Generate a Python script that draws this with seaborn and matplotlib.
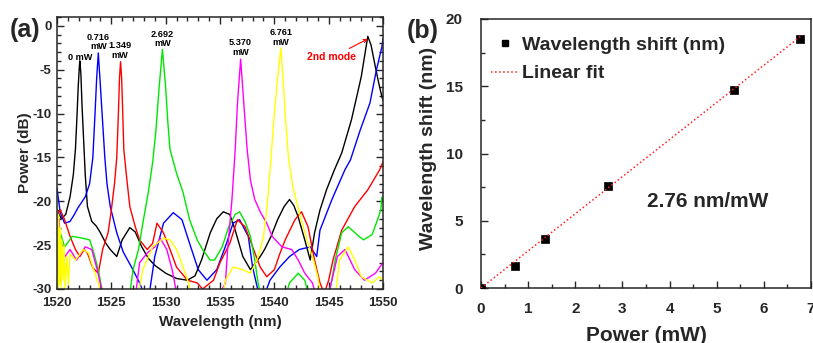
import numpy as np
import pandas as pd
import matplotlib
matplotlib.use("Agg")
import matplotlib.pyplot as plt
from matplotlib.lines import Line2D
from matplotlib.ticker import MultipleLocator
import seaborn as sns

# ---------------- data: panel (a) spectra ----------------
series_names = ["0 mW", "0.716 mW", "1.349 mW", "2.692 mW", "5.370 mW", "6.761 mW"]
series_colors = ["#000000", "#0000ff", "#ff0000", "#00e600", "#ff00ff", "#ffff00"]

wl_0 = [1520.0, 1520.4, 1520.8, 1521.2, 1521.5, 1521.7, 1521.85, 1521.95, 1522.05, 1522.1,
        1522.2, 1522.3, 1522.45, 1522.6, 1522.8, 1523.2, 1523.6, 1524.0, 1524.5, 1524.9,
        1525.5, 1526.0, 1526.7, 1527.2, 1527.8, 1528.4, 1529.0, 1530.0, 1531.0, 1532.0,
        1532.7, 1533.3, 1534.1, 1534.7, 1535.3, 1535.9, 1536.4, 1537.1, 1537.8, 1538.7,
        1539.1, 1539.7, 1540.3, 1540.9, 1541.4, 1541.8, 1542.2, 1542.8, 1543.3, 1543.7,
        1544.2, 1544.8, 1545.5, 1546.2, 1547.1, 1548.0, 1548.3, 1548.6, 1548.9, 1549.3,
        1549.6, 1549.9, 1550.0]
db_0 = [-21.0, -22.0, -21.5, -19.5, -17.0, -14.0, -10.0, -7.0, -4.8, -4.0,
        -5.5, -9.0, -13.0, -17.0, -20.6, -22.3, -22.8, -23.6, -24.8, -25.5,
        -26.3, -24.4, -23.0, -23.5, -25.2, -26.5, -27.3, -28.2, -28.8, -29.0,
        -28.5, -26.7, -23.6, -22.0, -21.2, -21.5, -23.3, -26.3, -27.8, -26.3,
        -25.5, -24.0, -22.1, -20.6, -19.8, -20.5, -21.8, -24.4, -26.7, -23.6,
        -21.0, -18.7, -16.5, -14.5, -10.7, -5.8, -3.5, -1.2, -2.2, -4.7,
        -6.5, -8.1, -8.5]

wl_1 = [1520.0, 1520.3, 1520.7, 1521.2, 1521.6, 1521.9, 1522.6, 1523.0, 1523.3, 1523.5,
        1523.65, 1523.8, 1523.95, 1524.15, 1524.4, 1524.6, 1524.9, 1525.5, 1526.1, 1526.9,
        1527.6, 1528.0, 1528.5, 1529.0, 1529.8, 1530.7, 1531.5, 1532.2, 1533.0, 1533.8,
        1534.7, 1535.6, 1536.2, 1536.8, 1537.6, 1538.0, 1538.5, 1539.0, 1539.6, 1540.5,
        1541.4, 1542.3, 1543.3, 1543.9, 1544.2, 1545.3, 1546.5, 1547.0, 1547.9, 1548.8,
        1549.4, 1549.9, 1550.0]
db_1 = [-18.5, -21.3, -22.5, -22.3, -21.5, -20.8, -19.5, -18.0, -15.0, -10.0,
        -6.0, -3.1, -6.0, -10.0, -15.0, -18.0, -20.6, -23.6, -25.8, -27.6,
        -29.3, -30.5, -30.5, -26.3, -22.5, -21.3, -22.1, -24.8, -27.8, -29.0,
        -27.8, -24.8, -22.5, -22.1, -24.0, -27.5, -30.2, -31.0, -29.0, -27.5,
        -26.3, -25.5, -25.2, -26.3, -23.3, -19.8, -16.4, -15.3, -11.9, -8.8,
        -5.0, -2.4, -1.5]

wl_2 = [1520.0, 1520.3, 1520.7, 1521.2, 1521.7, 1522.1, 1522.5, 1522.8, 1523.3, 1523.8,
        1524.2, 1524.7, 1525.0, 1525.3, 1525.5, 1525.65, 1525.75, 1525.85, 1525.95, 1526.05,
        1526.15, 1526.4, 1526.7, 1527.2, 1527.6, 1528.3, 1528.8, 1529.2, 1529.8, 1530.4,
        1531.0, 1532.0, 1532.9, 1533.4, 1534.4, 1535.0, 1535.9, 1536.6, 1537.3, 1538.0,
        1538.7, 1539.3, 1540.0, 1540.5, 1541.0, 1541.9, 1542.5, 1543.1, 1543.7, 1544.2,
        1544.6, 1545.0, 1545.4, 1546.2, 1547.4, 1548.6, 1549.7, 1550.0]
db_2 = [-21.5, -21.0, -22.1, -24.0, -25.5, -26.3, -25.5, -25.9, -27.6, -28.2,
        -25.5, -23.6, -21.0, -17.9, -15.0, -10.0, -6.0, -4.1, -6.0, -10.0,
        -14.1, -17.2, -20.6, -22.9, -24.4, -25.5, -24.8, -22.5, -23.6, -25.5,
        -27.5, -29.0, -29.3, -30.0, -29.0, -27.0, -24.8, -22.1, -22.9, -25.2,
        -27.5, -28.6, -27.8, -26.0, -24.4, -22.1, -21.2, -22.9, -26.7, -29.3,
        -30.5, -29.0, -26.7, -23.3, -20.6, -18.7, -16.4, -15.5]

wl_3 = [1520.0, 1520.3, 1520.7, 1521.4, 1522.3, 1523.0, 1523.3, 1523.8, 1524.1, 1524.5,
        1526.7, 1527.0, 1527.5, 1527.9, 1528.4, 1528.8, 1529.1, 1529.4, 1529.7, 1530.0,
        1530.2, 1530.4, 1531.0, 1531.6, 1532.2, 1532.9, 1533.4, 1534.1, 1534.5, 1535.2,
        1535.8, 1536.4, 1536.8, 1537.3, 1537.8, 1538.2, 1538.5, 1538.8, 1541.0, 1541.4,
        1542.2, 1542.8, 1543.2, 1545.0, 1545.6, 1546.2, 1546.8, 1547.6, 1548.2, 1549.0,
        1549.5, 1549.8, 1549.9, 1550.0]
db_3 = [-21.0, -23.6, -25.2, -24.0, -24.2, -24.4, -25.5, -27.8, -29.8, -31.0,
        -30.5, -27.8, -25.5, -22.5, -19.0, -15.6, -12.0, -7.0, -2.7, -7.0,
        -11.0, -14.1, -16.8, -19.0, -22.1, -24.4, -25.5, -26.7, -26.7, -25.2,
        -22.9, -21.5, -21.2, -22.3, -24.0, -26.7, -29.3, -31.0, -31.0, -29.3,
        -28.2, -29.0, -31.0, -31.0, -26.7, -23.6, -22.9, -23.8, -24.4, -23.8,
        -22.1, -21.0, -19.5, -20.0]

wl_4 = [1520.0, 1520.1, 1520.2, 1520.3, 1520.5, 1521.2, 1521.8, 1522.6, 1523.2, 1523.7,
        1524.1, 1524.5, 1527.2, 1527.6, 1528.3, 1529.0, 1529.5, 1530.1, 1530.6, 1530.9,
        1531.3, 1534.8, 1535.5, 1535.7, 1536.1, 1536.4, 1536.6, 1536.9, 1537.2, 1537.5,
        1537.8, 1538.2, 1538.7, 1539.3, 1539.8, 1540.7, 1541.6, 1542.2, 1542.8, 1543.5,
        1543.9, 1544.9, 1545.3, 1545.8, 1546.5, 1547.4, 1548.3, 1549.3, 1550.0]
db_4 = [-21.0, -28.0, -22.0, -29.0, -26.7, -25.5, -26.7, -25.2, -25.5, -27.8,
        -30.0, -31.0, -31.0, -27.0, -25.9, -25.2, -24.2, -25.5, -27.8, -29.8,
        -31.0, -31.0, -29.3, -25.5, -19.8, -14.1, -9.0, -3.8, -9.0, -14.1,
        -17.6, -19.8, -21.2, -22.5, -24.0, -25.2, -25.5, -26.7, -28.2, -29.3,
        -31.0, -31.0, -29.0, -26.3, -25.5, -27.8, -29.0, -28.2, -27.0]

wl_5 = [1520.0, 1520.08, 1520.15, 1520.22, 1520.3, 1520.38, 1520.45, 1520.55, 1520.65, 1520.75,
        1520.9, 1521.05, 1521.2, 1521.7, 1522.4, 1522.9, 1523.3, 1523.8, 1524.1, 1527.4,
        1527.9, 1528.8, 1529.8, 1530.4, 1531.0, 1531.6, 1532.1, 1532.4, 1535.2, 1535.5,
        1536.2, 1537.1, 1537.8, 1538.4, 1538.7, 1539.0, 1539.3, 1539.7, 1540.0, 1540.3,
        1540.6, 1540.85, 1541.05, 1541.3, 1541.7, 1542.4, 1543.0, 1543.6, 1544.0, 1544.3,
        1545.6, 1546.0, 1546.8, 1547.4, 1548.0, 1549.0, 1549.7, 1550.0]
db_5 = [-20.0, -30.0, -21.5, -29.5, -23.0, -30.0, -24.4, -29.0, -25.0, -30.0,
        -26.3, -29.5, -26.0, -26.7, -25.5, -25.9, -27.5, -29.3, -31.0, -31.0,
        -27.8, -25.2, -24.2, -24.4, -25.5, -27.5, -29.3, -31.0, -31.0, -29.0,
        -27.5, -27.8, -28.2, -26.7, -25.5, -24.0, -21.0, -15.0, -10.0, -6.0,
        -2.5, -7.0, -11.0, -15.0, -18.3, -21.8, -24.4, -26.7, -28.6, -31.0,
        -31.0, -26.7, -25.2, -26.7, -28.6, -29.3, -28.6, -29.0]

spectra_wl = [wl_0, wl_1, wl_2, wl_3, wl_4, wl_5]
spectra_db = [db_0, db_1, db_2, db_3, db_4, db_5]

# peak labels
peak_label_text = ["0 mW", "0.716\nmW", "1.349\nmW", "2.692\nmW", "5.370\nmW", "6.761\nmW"]
peak_label_x = [1522.1, 1523.8, 1525.8, 1529.7, 1536.9, 1540.6]
peak_label_y = [-3.65, -1.85, -2.85, -1.5, -2.5, -1.35]

# ---------------- data: panel (b) ----------------
power_mw = [0.0, 0.716, 1.349, 2.692, 5.370, 6.761]
shift_nm = [0.0, 1.6, 3.65, 7.55, 14.75, 18.5]
fit_slope = 2.76
fit_x = [0.0, 6.8]

# ---------------- style ----------------
sns.set_theme(style="ticks")
plt.rcParams["font.family"] = ["Liberation Sans", "DejaVu Sans"]
plt.rcParams["font.weight"] = "bold"
plt.rcParams["axes.labelweight"] = "bold"
plt.rcParams["axes.linewidth"] = 1.1
plt.rcParams["axes.unicode_minus"] = False
plt.rcParams["xtick.direction"] = "in"
plt.rcParams["ytick.direction"] = "in"

fig = plt.figure(figsize=(8.13, 3.43), dpi=100)
fig.patch.set_facecolor("white")

# ---------------- panel (a) ----------------
ax1 = fig.add_axes([57/813, 1-289/343, (383-57)/813, (289-17)/343])
rows = []
for name, wl, db in zip(series_names, spectra_wl, spectra_db):
    for i, (w, d) in enumerate(zip(wl, db)):
        rows.append({"series": name, "idx": i, "wl": w, "db": d})
df = pd.DataFrame(rows)
sns.lineplot(data=df, x="wl", y="db", hue="series", hue_order=series_names,
             palette=dict(zip(series_names, series_colors)), estimator=None,
             sort=False, legend=False, linewidth=1.0, ax=ax1)
ax1.set_xlim(1520, 1550)
ax1.set_ylim(-30, 1.0)
ax1.xaxis.set_major_locator(MultipleLocator(5))
ax1.xaxis.set_minor_locator(MultipleLocator(1))
ax1.yaxis.set_major_locator(MultipleLocator(5))
ax1.yaxis.set_minor_locator(MultipleLocator(1))
ax1.tick_params(which="both", top=True, right=True, direction="in", width=1.0)
ax1.tick_params(which="major", length=5, labelsize=9.5)
ax1.tick_params(which="minor", length=3)
ax1.tick_params(axis="x", which="major", pad=6)
ax1.tick_params(axis="y", which="major", pad=4)
for lab in ax1.get_xticklabels() + ax1.get_yticklabels():
    lab.set_fontweight("bold")
ax1.set_xlabel("Wavelength (nm)", fontsize=11, fontweight="bold")
ax1.set_ylabel("Power (dB)", fontsize=11, fontweight="bold")
ax1.xaxis.set_label_coords(0.5, -0.095)
ax1.yaxis.set_label_coords(-0.078, 0.5)

for t, x, y in zip(peak_label_text, peak_label_x, peak_label_y):
    ax1.text(x, y, t, ha="center", va="center", fontsize=6.6, fontweight="bold",
             linespacing=1.1, color="black")
ax1.annotate("2nd mode", xy=(1548.6, -1.5), xytext=(1545.3, -3.6),
             ha="center", va="center", fontsize=7.5, fontweight="bold", color="#ff0000",
             arrowprops=dict(arrowstyle="->", color="#ff0000", lw=0.8,
                             shrinkA=1, shrinkB=0, mutation_scale=6))

# ---------------- panel (b) ----------------
ax2 = fig.add_axes([481/813, 1-288/343, (811-481)/813, (288-19)/343])
fit_y = [fit_slope * x for x in fit_x]
sns.scatterplot(x=power_mw, y=shift_nm, marker="s", s=26, color="black",
                edgecolor="black", linewidth=0.5, ax=ax2, zorder=3, legend=False)
sns.lineplot(x=fit_x, y=fit_y, color="#ff2020", linestyle=":", linewidth=1.1,
             ax=ax2, zorder=4, legend=False)
ax2.set_xlim(0, 7)
ax2.set_ylim(0, 20)
ax2.xaxis.set_major_locator(MultipleLocator(1))
ax2.xaxis.set_minor_locator(MultipleLocator(0.5))
ax2.yaxis.set_major_locator(MultipleLocator(5))
ax2.yaxis.set_minor_locator(MultipleLocator(2.5))
ax2.tick_params(which="both", top=False, right=False, direction="in", width=1.0)
ax2.tick_params(which="major", length=5, labelsize=11)
ax2.tick_params(which="minor", length=3)
ax2.tick_params(axis="x", which="major", pad=10)
ax2.tick_params(axis="y", which="major", pad=13)
for lab in ax2.get_xticklabels() + ax2.get_yticklabels():
    lab.set_fontweight("bold")
ax2.set_xlabel("Power (mW)", fontsize=15, fontweight="bold")
ax2.set_ylabel("Wavelength shift (nm)", fontsize=14, fontweight="bold")
ax2.xaxis.set_label_coords(0.5, -0.14)
ax2.yaxis.set_label_coords(-0.133, 0.52)

handles = [Line2D([], [], marker="s", color="black", linestyle="none", markersize=4.5),
           Line2D([], [], color="#ff2020", linestyle=":", linewidth=1.1)]
leg = ax2.legend(handles, ["Wavelength shift (nm)", "Linear fit"], loc="upper left",
                 bbox_to_anchor=(0.03, 0.935), frameon=False, borderpad=0,
                 borderaxespad=0, handlelength=1.45, handletextpad=0.15,
                 labelspacing=0.55, prop={"size": 14, "weight": "bold"})
ax2.text(4.8, 6.4, "2.76 nm/mW", ha="center", va="center", fontsize=15,
         fontweight="bold")

# panel letters
fig.text(25/813, 1-30/343, "(a)", ha="center", va="center", fontsize=18, fontweight="bold")
fig.text(423/813, 1-31/343, "(b)", ha="center", va="center", fontsize=18, fontweight="bold")

fig.savefig("out.png", dpi=100, facecolor="white")
